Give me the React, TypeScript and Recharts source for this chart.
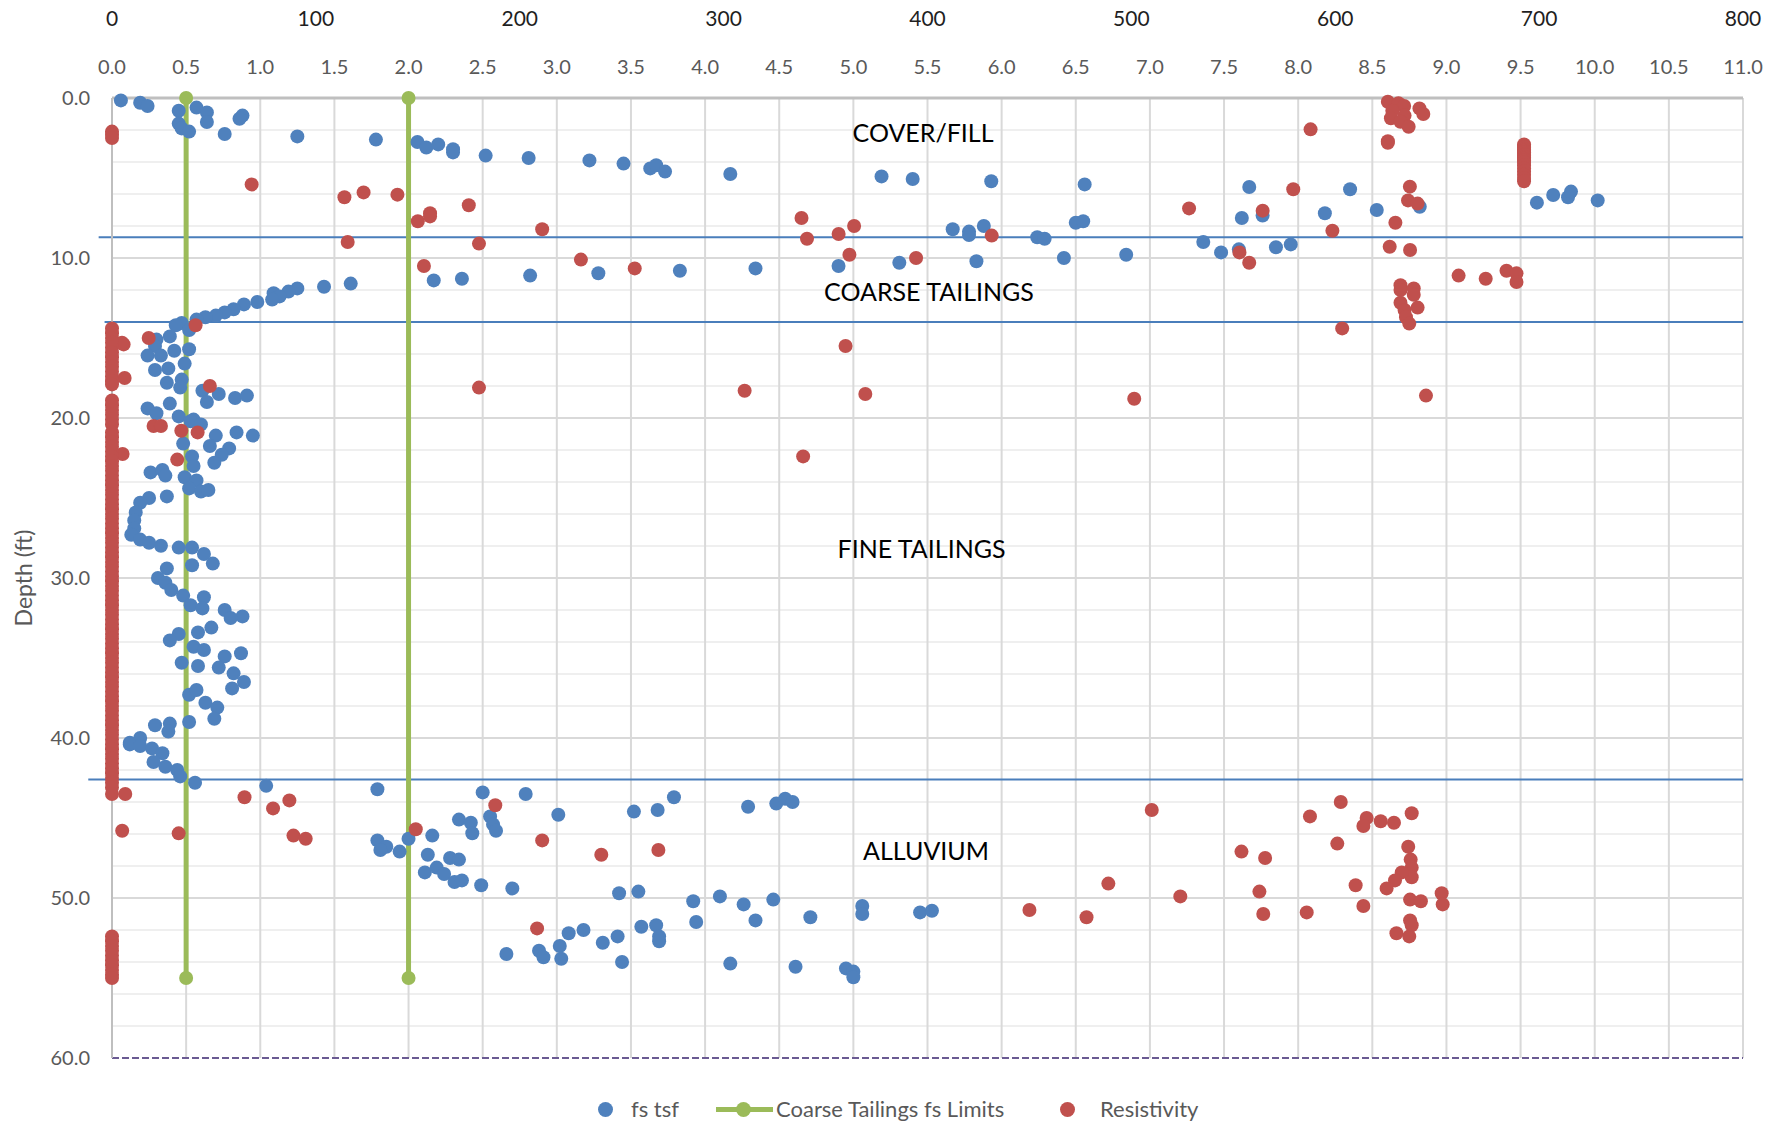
import React from 'react';
import {
  ScatterChart,
  Scatter,
  XAxis,
  YAxis,
  CartesianGrid,
  ReferenceLine,
  ReferenceDot,
} from 'recharts';

const FONT = 'Lato, "Open Sans", sans-serif';
const BLUE = '#4f81bd';
const RED = '#c0504d';
const GREEN = '#9bbb59';
const BOUNDARY = '#4a7ebb';
const PURPLE = '#6a5a92';

// axis ticks
const resTicks = [0, 100, 200, 300, 400, 500, 600, 700, 800];
const fsTicks = [0, 0.5, 1, 1.5, 2, 2.5, 3, 3.5, 4, 4.5, 5, 5.5, 6, 6.5, 7, 7.5, 8, 8.5, 9, 9.5, 10, 10.5, 11];
const depthTicks = [0, 10, 20, 30, 40, 50, 60];
const majorDepths = [10, 20, 30, 40, 50];
const minorDepths = [2, 4, 6, 8, 12, 14, 16, 18, 22, 24, 26, 28, 32, 34, 36, 38, 42, 44, 46, 48, 52, 54, 56, 58];
const gridFs = [0.5, 1, 1.5, 2, 2.5, 3, 3.5, 4, 4.5, 5, 5.5, 6, 6.5, 7, 7.5, 8, 8.5, 9, 9.5, 10, 10.5, 11];

// layer boundaries (depth ft) and where each line starts on the fs scale
const boundaryDepths = [8.7, 14.0, 42.6];
const boundaryStartFs = [-0.09, -0.05, -0.16];

// zone labels: [text, fs, depth]
const zoneLabels: [string, number, number][] = [
  ['COVER/FILL', 5.47, 2.2],
  ['COARSE TAILINGS', 5.51, 12.15],
  ['FINE TAILINGS', 5.46, 28.2],
  ['ALLUVIUM', 5.49, 47.1],
];

// coarse tailings fs limits
const fsLimits = [0.5, 2.0];
const fsLimitDepths = [0, 55];

// fs tsf [fs, depth]
const fsCover: [number, number][] = [
  [0.06, 0.15], [0.19, 0.3], [0.24, 0.5], [0.45, 0.8], [0.57, 0.6], [0.64, 0.9], [0.64, 1.5],
  [0.45, 1.6], [0.47, 1.9], [0.52, 2.1], [0.88, 1.1], [0.86, 1.3], [0.76, 2.25], [1.25, 2.4],
  [1.78, 2.6], [2.06, 2.75], [2.12, 3.1], [2.2, 2.9], [2.3, 3.2], [2.3, 3.4], [2.52, 3.6],
  [2.81, 3.75], [3.22, 3.9], [3.45, 4.1], [3.63, 4.4], [3.67, 4.2], [3.73, 4.6], [4.17, 4.75],
  [5.19, 4.9], [5.4, 5.06], [5.93, 5.2], [6.56, 5.4], [5.67, 8.2], [5.78, 8.35], [5.78, 8.56],
  [5.88, 8.0], [6.5, 7.8], [6.55, 7.7], [6.24, 8.7], [6.29, 8.8], [7.62, 7.5], [7.76, 7.35],
  [7.67, 5.56], [8.18, 7.2], [8.35, 5.7], [8.53, 7.0], [8.82, 6.8], [9.61, 6.54], [9.72, 6.06],
  [9.82, 6.2], [9.84, 5.85], [10.02, 6.4],
];
const fsCoarse: [number, number][] = [
  [7.36, 9.0], [7.48, 9.65], [7.6, 9.46], [7.85, 9.33], [7.95, 9.15], [6.84, 9.8], [6.42, 10.0],
  [5.83, 10.2], [5.31, 10.3], [4.9, 10.5], [4.34, 10.65], [3.83, 10.8], [3.28, 10.95], [2.82, 11.1],
  [2.36, 11.3], [2.17, 11.4], [1.61, 11.6], [1.43, 11.8], [1.25, 11.9], [1.19, 12.1], [1.09, 12.2],
  [1.13, 12.4], [1.08, 12.6], [0.98, 12.75], [0.89, 12.9], [0.82, 13.2], [0.76, 13.4], [0.7, 13.6],
  [0.63, 13.7], [0.57, 13.85],
];
const fsFine: [number, number][] = [
  [0.47, 14.06], [0.43, 14.2], [0.52, 14.5], [0.39, 14.9], [0.3, 15.1], [0.29, 15.5], [0.42, 15.8],
  [0.52, 15.7], [0.24, 16.1], [0.33, 16.1], [0.49, 16.6], [0.29, 17.0], [0.38, 16.9], [0.37, 17.8],
  [0.47, 17.6], [0.46, 18.1], [0.61, 18.3], [0.72, 18.5], [0.64, 19.0], [0.83, 18.75], [0.91, 18.6],
  [0.39, 19.1], [0.24, 19.4], [0.3, 19.7], [0.45, 19.9], [0.55, 20.1], [0.53, 20.2], [0.6, 20.4],
  [0.84, 20.9], [0.95, 21.1], [0.7, 21.1], [0.48, 21.6], [0.66, 21.75], [0.79, 21.9], [0.74, 22.3],
  [0.54, 22.4], [0.69, 22.8], [0.26, 23.4], [0.34, 23.25], [0.36, 23.6], [0.55, 23.0], [0.49, 23.7],
  [0.57, 23.9], [0.52, 24.4], [0.6, 24.6], [0.65, 24.5], [0.37, 24.9], [0.25, 25.0], [0.19, 25.3],
  [0.16, 25.9], [0.15, 26.4], [0.15, 26.9], [0.13, 27.3], [0.19, 27.6], [0.25, 27.8], [0.33, 27.98],
  [0.45, 28.1], [0.54, 28.1], [0.62, 28.5], [0.54, 29.2], [0.68, 29.1], [0.37, 29.4], [0.31, 30.0],
  [0.36, 30.3], [0.4, 30.75], [0.48, 31.1], [0.53, 31.7], [0.62, 31.2], [0.61, 31.9], [0.76, 32.0],
  [0.88, 32.4], [0.8, 32.5], [0.67, 33.1], [0.58, 33.4], [0.45, 33.5], [0.39, 33.9], [0.55, 34.3],
  [0.62, 34.5], [0.76, 34.9], [0.87, 34.7], [0.47, 35.3], [0.58, 35.5], [0.72, 35.6], [0.82, 35.96],
  [0.89, 36.5], [0.81, 36.9], [0.52, 37.3], [0.57, 37.0], [0.63, 37.8], [0.71, 38.1], [0.69, 38.8],
  [0.52, 39.0], [0.39, 39.1], [0.29, 39.2], [0.38, 39.6], [0.19, 40.0], [0.12, 40.3], [0.12, 40.4],
  [0.19, 40.5], [0.27, 40.65], [0.34, 40.95], [0.28, 41.5], [0.36, 41.8], [0.44, 42.0], [0.46, 42.4],
];
const fsAlluvium: [number, number][] = [
  [0.56, 42.8], [1.04, 42.99], [1.79, 43.2], [2.5, 43.4], [2.79, 43.5], [3.01, 44.8], [2.34, 45.1],
  [2.42, 45.3], [2.43, 45.95], [2.55, 44.9], [2.57, 45.4], [2.59, 45.8], [2.16, 46.1], [1.79, 46.4],
  [1.85, 46.8], [1.81, 47.0], [2.0, 46.3], [1.94, 47.1], [2.13, 47.3], [2.28, 47.5], [2.34, 47.6],
  [2.11, 48.4], [2.19, 48.1], [2.24, 48.5], [2.31, 49.0], [2.36, 48.9], [2.49, 49.2], [2.7, 49.4],
  [2.66, 53.5], [2.88, 53.3], [2.91, 53.7], [3.02, 53.0], [3.03, 53.8], [3.08, 52.2], [3.18, 52.0],
  [3.31, 52.8], [3.52, 44.6], [3.68, 44.5], [3.79, 43.7], [4.29, 44.3], [4.48, 44.1], [4.54, 43.8],
  [4.59, 44.0], [3.42, 49.7], [3.55, 49.6], [3.41, 52.4], [3.44, 54.0], [3.57, 51.8], [3.67, 51.7],
  [3.69, 52.4], [3.69, 52.7], [3.92, 50.2], [3.94, 51.5], [4.1, 49.9], [4.17, 54.1], [4.26, 50.4],
  [4.34, 51.4], [4.46, 50.1], [4.61, 54.3], [4.71, 51.2], [4.95, 54.4], [5.0, 54.6], [5.0, 54.95],
  [5.06, 50.5], [5.06, 51.0], [5.45, 50.9], [5.53, 50.8],
];

// resistivity [ohm-m, depth]
const resCover: [number, number][] = [
  [0, 2.1], [0, 2.3], [0, 2.5], [68.5, 5.4], [114, 6.2], [123.4, 5.9], [140, 6.04], [150, 7.7],
  [156, 7.2], [156, 7.4], [175, 6.7], [211, 8.2], [338.2, 7.5], [356.4, 8.5], [364, 8.0],
  [431.5, 8.6], [528.3, 6.9], [564.4, 7.04], [579.4, 5.7], [587.9, 1.96], [598.6, 8.3],
  [625.8, 0.23], [631, 0.33], [633.8, 0.5], [628, 0.8], [634, 1.1], [627.3, 1.27], [632, 1.48],
  [636, 1.8], [641.3, 0.65], [643.2, 1.0], [625.8, 2.7], [625.8, 2.8], [636.6, 5.54], [635.7, 6.4],
  [640.4, 6.6], [629.5, 7.8],
];
// near-constant readings in the cover layer at ~693 ohm-m
const resCoverColumnDepths = [2.9, 3.0, 3.1, 3.2, 3.3, 3.4, 3.5, 3.6, 3.7, 3.8, 3.9, 4.0, 4.2, 4.4, 4.6, 4.8, 5.0, 5.2];
const resCoarse: [number, number][] = [
  [115.6, 9.0], [180, 9.1], [153, 10.5], [230, 10.1], [340.9, 8.8], [361.7, 9.8], [394.4, 10.0],
  [256.4, 10.65], [553, 9.65], [557.8, 10.3], [626.7, 9.3], [636.7, 9.5], [632, 11.7], [632, 12.0],
  [638.5, 11.9], [638.5, 12.3], [632, 12.8], [634, 13.25], [640.4, 13.1], [634.7, 13.7], [636.3, 14.1],
  [660.5, 11.1], [673.8, 11.3], [684, 10.8], [688.9, 10.96], [688.9, 11.5], [41, 14.2],
];
const resFine: [number, number][] = [
  [18, 15.0], [5.7, 15.4], [4.9, 15.3], [6.2, 17.5], [48, 18.0], [180, 18.1], [359.8, 15.5],
  [310.3, 18.3], [369.5, 18.5], [501.4, 18.8], [603.4, 14.4], [644.5, 18.6], [339, 22.4],
  [20.4, 20.5], [24, 20.5], [34, 20.8], [42, 20.9], [5.2, 22.25], [32, 22.6],
];
const resAlluvium: [number, number][] = [
  [6.5, 43.5], [5, 45.8], [32.7, 45.96], [65, 43.7], [79, 44.4], [87, 43.9], [89, 46.1], [95, 46.3],
  [149, 45.7], [188, 44.2], [211, 46.4], [240, 47.3], [268, 47.0], [208.5, 51.9], [450, 50.75],
  [478, 51.2], [488.7, 49.1], [510, 44.5], [524, 49.9], [554, 47.1], [565.6, 47.5], [562.8, 49.6],
  [564.7, 51.0], [586, 50.9], [587.6, 44.9], [602.7, 44.0], [601, 46.6], [610, 49.2], [613.8, 50.5],
  [615.4, 45.0], [613.8, 45.5], [622.3, 45.2], [628.8, 45.3], [637.5, 44.7], [635.8, 46.8], [637, 47.6],
  [637.5, 48.1], [637.5, 48.7], [632.6, 48.4], [629.3, 48.9], [625.2, 49.4], [636.7, 50.1], [642, 50.2],
  [652.2, 49.7], [652.7, 50.4], [636.7, 51.4], [637.5, 51.7], [630, 52.2], [636.3, 52.4],
];
// depths where resistivity reads zero
const resZeroDepths = [
  14.4, 14.7, 15.0, 15.3, 15.6, 15.9, 16.2, 16.5, 16.8, 17.1, 17.4, 17.7, 17.9,
  18.9, 19.2, 19.5, 19.8, 20.1, 20.4,
  20.9, 21.2, 21.5, 21.8, 22.1, 22.4, 22.7, 23.0, 23.3, 23.6, 23.9, 24.2, 24.5, 24.8, 25.1, 25.4,
  25.7, 26.0, 26.3, 26.6, 26.9, 27.2, 27.5, 27.8, 28.1, 28.4, 28.7, 29.0, 29.3, 29.6, 29.9, 30.2,
  30.5, 30.8, 31.1, 31.4, 31.7, 32.0, 32.3, 32.6, 32.9, 33.2, 33.5, 33.8, 34.1, 34.4, 34.7, 35.0,
  35.3, 35.6, 35.9, 36.2, 36.5, 36.8, 37.1, 37.4, 37.7, 38.0, 38.3, 38.6, 38.9, 39.2, 39.5, 39.8,
  40.1, 40.4, 40.7, 41.0, 41.3, 41.6, 41.9, 42.2, 42.5, 42.8, 43.1, 43.5,
  52.4, 52.7, 53.0, 53.3, 53.6, 53.9, 54.2, 54.5, 54.8, 55.0,
];

const toPts = (arr: [number, number][]) => arr.map(([x, y]) => ({ x, y }));

const fsData = toPts([...fsCover, ...fsCoarse, ...fsFine, ...fsAlluvium]);
const resData = [
  ...toPts([...resCover, ...resCoarse, ...resFine, ...resAlluvium]),
  ...resCoverColumnDepths.map((y) => ({ x: 692.6, y })),
  ...resZeroDepths.map((y) => ({ x: 0, y })),
];

const dot = (color: string) => (props: any) =>
  props.cx == null ? <g /> : <circle cx={props.cx} cy={props.cy} r={7} fill={color} />;

const tickStyle = { fontSize: 20, fill: '#595959', fontFamily: FONT };

export default function App() {
  return (
    <div style={{ position: 'absolute', left: 0, top: 0, width: 1788, height: 1122, background: '#fff', fontFamily: FONT }}>
      <ScatterChart width={1788} height={1122} margin={{ top: 0, right: 45, bottom: 0, left: 0 }}>
        <CartesianGrid
          xAxisId="fs"
          yAxisId="d"
          vertical={false}
          horizontalValues={minorDepths}
          stroke="#efefef"
          strokeWidth={2}
        />
        <CartesianGrid
          xAxisId="fs"
          yAxisId="d"
          horizontalValues={majorDepths}
          verticalValues={gridFs}
          stroke="#d9d9d9"
          strokeWidth={2}
        />
        <XAxis
          xAxisId="fs"
          orientation="top"
          dataKey="x"
          type="number"
          domain={[0, 11]}
          ticks={fsTicks}
          interval={0}
          height={50}
          tickFormatter={(v: number) => v.toFixed(1)}
          tick={tickStyle}
          tickLine={false}
          tickSize={0}
          tickMargin={24}
          axisLine={{ stroke: '#bfbfbf', strokeWidth: 3 }}
        />
        <XAxis
          xAxisId="res"
          orientation="top"
          dataKey="x"
          type="number"
          domain={[0, 800]}
          ticks={resTicks}
          interval={0}
          height={48}
          tick={{ ...tickStyle, fontSize: 21, fill: '#1f1f1f' }}
          tickLine={false}
          tickSize={0}
          tickMargin={22}
          axisLine={false}
        />
        <XAxis
          xAxisId="resB"
          orientation="bottom"
          dataKey="x"
          type="number"
          domain={[0, 800]}
          ticks={resTicks}
          interval={0}
          height={64}
          tick={false}
          tickSize={6}
          tickLine={{ stroke: PURPLE, strokeWidth: 2 }}
          axisLine={{ stroke: PURPLE, strokeWidth: 2, strokeDasharray: '7 3' }}
        />
        <YAxis
          yAxisId="d"
          dataKey="y"
          type="number"
          domain={[0, 60]}
          reversed
          ticks={depthTicks}
          interval={0}
          width={112}
          tickFormatter={(v: number) => v.toFixed(1)}
          tick={tickStyle}
          tickLine={false}
          tickSize={0}
          tickMargin={22}
          axisLine={{ stroke: '#bfbfbf', strokeWidth: 2 }}
          label={{
            content: (p: any) => {
              const vb = p.viewBox || { x: 0, y: 98, width: 112, height: 960 };
              const cx = vb.x + 23;
              const cy = vb.y + vb.height / 2;
              return (
                <text
                  x={cx}
                  y={cy}
                  transform={`rotate(-90 ${cx} ${cy})`}
                  textAnchor="middle"
                  dominantBaseline="central"
                  fontSize={23}
                  fill="#595959"
                  fontFamily={FONT}
                >
                  Depth (ft)
                </text>
              );
            },
          }}
        />
        {boundaryDepths.map((d, i) => (
          <ReferenceLine
            key={d}
            xAxisId="fs"
            yAxisId="d"
            segment={[{ x: boundaryStartFs[i], y: d }, { x: 11, y: d }]}
            ifOverflow="visible"
            stroke={BOUNDARY}
            strokeWidth={2}
          />
        ))}
        {fsLimits.map((v) => (
          <Scatter
            key={v}
            name="Coarse Tailings fs Limits"
            xAxisId="fs"
            yAxisId="d"
            data={fsLimitDepths.map((y) => ({ x: v, y }))}
            line={{ stroke: GREEN, strokeWidth: 5 }}
            shape={dot(GREEN)}
            isAnimationActive={false}
          />
        ))}
        <Scatter name="fs tsf" xAxisId="fs" yAxisId="d" data={fsData} shape={dot(BLUE)} isAnimationActive={false} />
        <Scatter name="Resistivity" xAxisId="res" yAxisId="d" data={resData} shape={dot(RED)} isAnimationActive={false} />
        {zoneLabels.map(([text, x, y]) => (
          <ReferenceDot
            key={text}
            xAxisId="fs"
            yAxisId="d"
            x={x}
            y={y}
            r={1}
            fill="none"
            stroke="none"
            label={{ value: text, position: 'center', fontSize: 25, fill: '#000', fontFamily: FONT }}
          />
        ))}
      </ScatterChart>
      {/* legend */}
      <div style={{ position: 'absolute', top: 1096, left: 0, height: 26, width: 1788, fontSize: 22, color: '#595959', lineHeight: '26px' }}>
        <span style={{ position: 'absolute', left: 598, top: 6, width: 15, height: 15, borderRadius: 8, background: BLUE }} />
        <span style={{ position: 'absolute', left: 631 }}>fs tsf</span>
        <span style={{ position: 'absolute', left: 716, top: 11, width: 57, height: 5, background: GREEN }} />
        <span style={{ position: 'absolute', left: 736, top: 6, width: 15, height: 15, borderRadius: 8, background: GREEN }} />
        <span style={{ position: 'absolute', left: 776 }}>Coarse Tailings fs Limits</span>
        <span style={{ position: 'absolute', left: 1060, top: 6, width: 15, height: 15, borderRadius: 8, background: RED }} />
        <span style={{ position: 'absolute', left: 1100 }}>Resistivity</span>
      </div>
    </div>
  );
}
